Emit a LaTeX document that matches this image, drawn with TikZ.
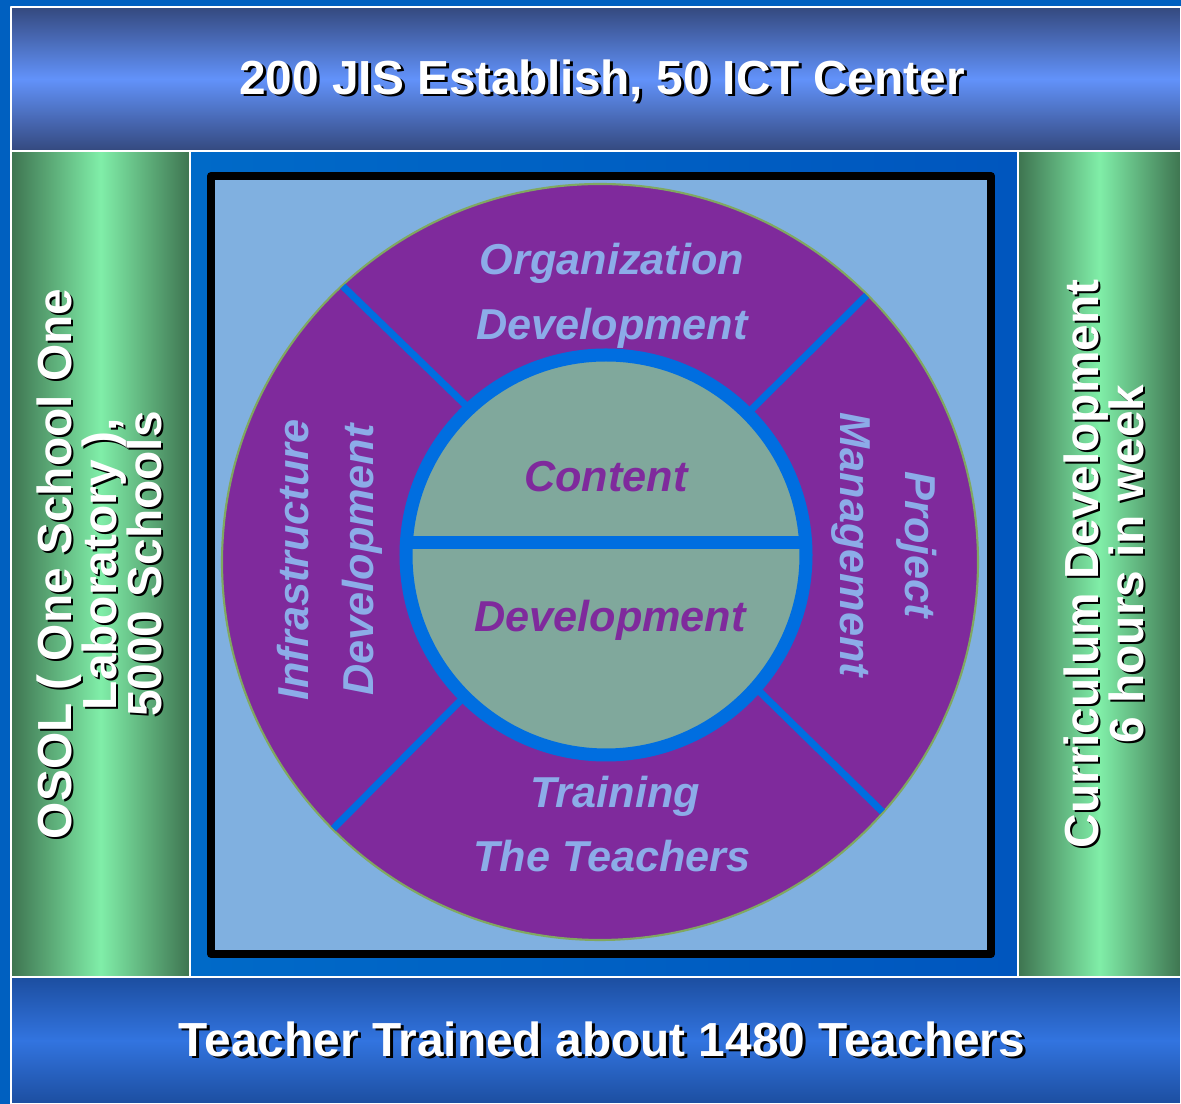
\documentclass[tikz,border=0pt]{standalone}
\usepackage{fontspec}
\setmainfont{Liberation Sans}
\usetikzlibrary{calc}

\definecolor{bgblue}{RGB}{0,96,192}
\definecolor{topdark}{RGB}{52,73,126}
\definecolor{toplight}{RGB}{98,146,250}
\definecolor{lowdark}{RGB}{28,78,160}
\definecolor{lowlight}{RGB}{50,116,224}
\definecolor{greendark}{RGB}{62,116,80}
\definecolor{greenlight}{RGB}{128,238,168}
\definecolor{midleft}{RGB}{0,106,200}
\definecolor{midright}{RGB}{0,86,190}
\definecolor{skyblue}{RGB}{128,176,224}
\definecolor{wheelpurple}{RGB}{127,42,156}
\definecolor{rimgreen}{RGB}{128,168,96}
\definecolor{ringblue}{RGB}{0,110,224}
\definecolor{hubfill}{RGB}{128,168,156}
\definecolor{labelblue}{RGB}{140,172,232}

\tikzset{
  bartext/.style={text=white, align=center,
    font=\fontsize{13.6}{12.8}\selectfont\bfseries},
  barshadow/.style={bartext, text=black},
  wheeltext/.style={text=labelblue, align=center,
    font=\fontsize{12.3}{18.5}\selectfont\bfseries\itshape},
  hubtext/.style={wheeltext, text=wheelpurple},
  spoke/.style={ringblue, line width=2pt},
  edge/.style={white, line width=0.4pt}
}

\begin{document}
\begin{tikzpicture}[x=0.01cm, y=-0.01cm, line join=round]
  \useasboundingbox (0,0) rectangle (1181,1104);
  \fill[bgblue] (0,0) rectangle (1181,1104);

  % bars round the frame
  \shade[top color=topdark, bottom color=topdark, middle color=toplight]
    (11,7) rectangle (1181,151);
  \shade[top color=lowdark, bottom color=lowdark, middle color=lowlight]
    (11,977) rectangle (1181,1104);
  \shade[left color=greendark, right color=greendark, middle color=greenlight]
    (11,151) rectangle (190,977);
  \shade[left color=greendark, right color=greendark, middle color=greenlight]
    (1018,151) rectangle (1181,977);
  \shade[left color=midleft, right color=midright] (190,151) rectangle (1018,977);
  \draw[edge] (11,7) rectangle (1181,151);
  \draw[edge] (11,151) rectangle (190,977);
  \draw[edge] (1018,151) rectangle (1181,977);
  \draw[edge] (11,977) rectangle (1181,1104);

  % picture in the middle
  \draw[fill=skyblue, line width=2.3pt] (211,176) rectangle (991,954);
  \coordinate (wheel) at (600,562);
  \coordinate (hub) at (606,555);
  \fill[wheelpurple, draw=rimgreen, line width=0.6pt] (wheel) circle (378);
  \foreach \a in {-133,-45,135,41.5}
    \draw[spoke] ($(hub)+(\a:195)$) -- ($(wheel)+(\a:377)$);
  \fill[hubfill] (hub) circle (200);
  \draw[ringblue, line width=3.7pt] (406,543) -- (806,543);
  \draw[ringblue, line width=3.7pt] (hub) circle (200);

  \node[wheeltext, anchor=base] (orga) at (612,275) {Organization};
  \node[wheeltext, anchor=base] (orgb) at (612,340) {Development};
  \node[wheeltext, rotate=90] (infra) at (330,560) {Infrastructure\\Development};
  \node[wheeltext, rotate=-90] (proj) at (884,545) {Project\\Management};
  \node[wheeltext, anchor=base] (traina) at (615,808) {Training};
  \node[wheeltext, anchor=base] (trainb) at (612,872) {The Teachers};
  \node[hubtext, anchor=base] (conta) at (606,492) {Content};
  \node[hubtext, anchor=base] (contb) at (610,632) {Development};

  % bar texts with shadow
  \node[barshadow, anchor=base] (topsh) at (605,97) {200 JIS Establish, 50 ICT Center};
  \node[bartext, anchor=base] (top) at (602,95) {200 JIS Establish, 50 ICT Center};
  \node[barshadow, anchor=base] (lowsh) at (605,1059) {Teacher Trained about 1480 Teachers};
  \node[bartext, anchor=base] (low) at (602,1057) {Teacher Trained about 1480 Teachers};
  \node[barshadow, rotate=90] (leftsh) at (101,566)
    {OSOL ( One School One\\Laboratory ),\\5000 Schools};
  \node[bartext, rotate=90] (left) at (99,564)
    {OSOL ( One School One\\Laboratory ),\\5000 Schools};
  \node[barshadow, rotate=90] (rightsh) at (1106,566)
    {Curriculum Development\\6 hours in week};
  \node[bartext, rotate=90] (right) at (1104,564)
    {Curriculum Development\\6 hours in week};
\end{tikzpicture}
\end{document}
